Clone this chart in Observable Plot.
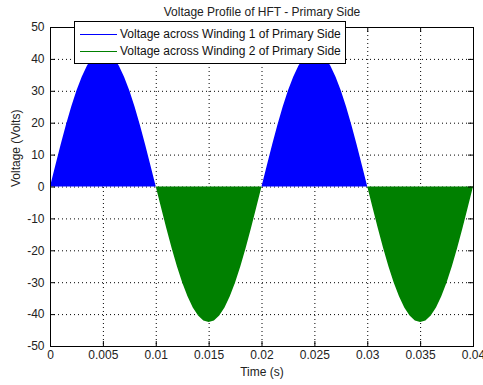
<!DOCTYPE html>
<html><head><meta charset="utf-8">
<script src="https://cdn.jsdelivr.net/npm/d3@7"></script>
<script src="https://cdn.jsdelivr.net/npm/@observablehq/plot@0.6"></script>
<style>
body{margin:0;background:#fff;}
#wrap{position:relative;width:483px;height:385px;font-family:"Liberation Sans",Arial,sans-serif;}
#legend{position:absolute;left:74px;top:21px;width:272px;height:43px;border:1px solid #000;background:#fff;box-sizing:border-box;font-size:12px;color:#111;}
.row{position:absolute;left:5px;height:14px;line-height:14px;white-space:nowrap;}
.sw{display:inline-block;width:37px;height:0;border-top:1px solid;vertical-align:middle;margin-right:3px;}
</style></head>
<body><div id="wrap"></div>
<script>
const seriesNames = ["Voltage across Winding 1 of Primary Side","Voltage across Winding 2 of Primary Side"];
const seriesColors = ["#0000ff","#008000"];
const time = [0,0.0005,0.001,0.0015,0.002,0.0025,0.003,0.0035,0.004,0.0045,0.005,0.0055,0.006,0.0065,0.007,0.0075,0.008,0.0085,0.009,0.0095,0.01,
0.0105,0.011,0.0115,0.012,0.0125,0.013,0.0135,0.014,0.0145,0.015,0.0155,0.016,0.0165,0.017,0.0175,0.018,0.0185,0.019,0.0195,0.02,
0.0205,0.021,0.0215,0.022,0.0225,0.023,0.0235,0.024,0.0245,0.025,0.0255,0.026,0.0265,0.027,0.0275,0.028,0.0285,0.029,0.0295,0.03,
0.0305,0.031,0.0315,0.032,0.0325,0.033,0.0335,0.034,0.0345,0.035,0.0355,0.036,0.0365,0.037,0.0375,0.038,0.0385,0.039,0.0395,0.04];
const winding1 = [0,6.6,13.1,19.3,25.0,30.1,34.4,37.9,40.4,42.0,42.5,42.0,40.4,37.9,34.4,30.1,25.0,19.3,13.1,6.6,0,
0,0,0,0,0,0,0,0,0,0,0,0,0,0,0,0,0,0,0,
0,6.6,13.1,19.3,25.0,30.1,34.4,37.9,40.4,42.0,42.5,42.0,40.4,37.9,34.4,30.1,25.0,19.3,13.1,6.6,0,
0,0,0,0,0,0,0,0,0,0,0,0,0,0,0,0,0,0,0,0];
const winding2 = [0,0,0,0,0,0,0,0,0,0,0,0,0,0,0,0,0,0,0,0,
0,-6.6,-13.1,-19.3,-25.0,-30.1,-34.4,-37.9,-40.4,-42.0,-42.5,-42.0,-40.4,-37.9,-34.4,-30.1,-25.0,-19.3,-13.1,-6.6,0,
0,0,0,0,0,0,0,0,0,0,0,0,0,0,0,0,0,0,0,
0,-6.6,-13.1,-19.3,-25.0,-30.1,-34.4,-37.9,-40.4,-42.0,-42.5,-42.0,-40.4,-37.9,-34.4,-30.1,-25.0,-19.3,-13.1,-6.6,0];
const xTicks = [0,0.005,0.01,0.015,0.02,0.025,0.03,0.035,0.04];
const xTickLabels = ["0","0.005","0.01","0.015","0.02","0.025","0.03","0.035","0.04"];
const yTicks = [-50,-40,-30,-20,-10,0,10,20,30,40,50];
const yTickLabels = ["-50","-40","-30","-20","-10","0","10","20","30","40","50"];
const title = "Voltage Profile of HFT - Primary Side";
const xLabel = "Time (s)";
const yLabel = "Voltage (Volts)";

const d1 = time.map((t,i)=>({t, v: winding1[i]}));
const d2 = time.map((t,i)=>({t, v: winding2[i]}));
const W = 483, H = 385, mT = 27, mB = 39, mL = 50, mR = 10;
const fh = H - mT - mB, fw = W - mL - mR;
const txt = "#222";

const chart = Plot.plot({
  width: W, height: H, marginTop: mT, marginBottom: mB, marginLeft: mL, marginRight: mR,
  style: {fontFamily: '"Liberation Sans", Arial, sans-serif', fontSize: "12px", background: "#fff", color: txt},
  x: {domain: [0, 0.04], axis: null},
  y: {domain: [-50, 50], axis: null},
  marks: [
    Plot.gridX(xTicks, {stroke: "#000", strokeOpacity: 1, strokeDasharray: "1,3"}),
    Plot.gridY(yTicks, {stroke: "#000", strokeOpacity: 1, strokeDasharray: "1,3"}),
    Plot.areaY(d1, {x: "t", y: "v", fill: seriesColors[0], fillOpacity: 1}),
    Plot.areaY(d2, {x: "t", y: "v", fill: seriesColors[1], fillOpacity: 1}),
    Plot.tickX(xTicks, {stroke: "#000", insetTop: fh - 5}),
    Plot.tickX(xTicks, {stroke: "#000", insetBottom: fh - 5}),
    Plot.tickY(yTicks, {stroke: "#000", insetRight: fw - 5}),
    Plot.tickY(yTicks, {stroke: "#000", insetLeft: fw - 5}),
    Plot.frame({stroke: "#000"}),
    Plot.axisX(xTicks, {tickSize: 0, tickPadding: 4, tickFormat: (d, i) => xTickLabels[i], label: null, fill: txt, fontSize: 12}),
    Plot.axisY(yTicks, {tickSize: 0, tickPadding: 6, tickFormat: (d, i) => yTickLabels[i], label: null, fill: txt, fontSize: 12}),
    Plot.text([xLabel], {frameAnchor: "bottom", dy: 26, lineAnchor: "middle", fill: txt, fontSize: 12}),
    Plot.text([yLabel], {frameAnchor: "left", dx: -34, rotate: -90, lineAnchor: "middle", fill: txt, fontSize: 12}),
    Plot.text([title], {frameAnchor: "top", dy: -15, lineAnchor: "middle", fill: txt, fontSize: 12})
  ]
});
const wrap = document.getElementById("wrap");
wrap.appendChild(chart);
const lg = document.createElement("div");
lg.id = "legend";
seriesNames.forEach((n, i) => {
  const r = document.createElement("div");
  r.className = "row";
  r.style.top = (i === 0 ? 5 : 22) + "px";
  const s = document.createElement("span");
  s.className = "sw"; s.style.borderTopColor = seriesColors[i];
  r.appendChild(s);
  r.appendChild(document.createTextNode(n));
  lg.appendChild(r);
});
wrap.appendChild(lg);
</script></body></html>
